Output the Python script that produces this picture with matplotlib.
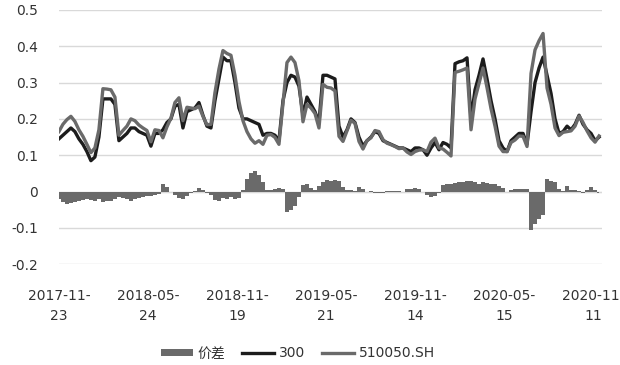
import matplotlib
matplotlib.use('Agg')
import matplotlib.pyplot as plt
import numpy as np

plt.rcParams['font.family'] = ['DejaVu Sans', 'Noto Sans CJK SC']
plt.rcParams['font.size'] = 10

# labels on the category axis (trading-day index 0, 120, 240 ...)
tick_labels = ['2017-11-\n23', '2018-05-\n24', '2018-11-\n19', '2019-05-\n21',
               '2019-11-\n14', '2020-05-\n15', '2020-11-\n11']
n_days = 732

# values read roughly every ~5 trading days
hs300 = [0.145, 0.155, 0.165, 0.175, 0.165, 0.145, 0.13, 0.11, 0.085, 0.095,
         0.15, 0.255, 0.255, 0.255, 0.24, 0.14, 0.15, 0.16, 0.175, 0.175,
         0.165, 0.16, 0.155, 0.125, 0.16, 0.16, 0.17, 0.19, 0.2, 0.235,
         0.24, 0.175, 0.22, 0.225, 0.23, 0.245, 0.21, 0.18, 0.175, 0.25,
         0.31, 0.37, 0.36, 0.36, 0.3, 0.23, 0.2, 0.2, 0.195, 0.19,
         0.185, 0.155, 0.16, 0.16, 0.155, 0.14, 0.25, 0.3, 0.32, 0.315,
         0.29, 0.21, 0.26, 0.24, 0.22, 0.19, 0.32, 0.32, 0.315, 0.31,
         0.18, 0.15, 0.17, 0.2, 0.19, 0.15, 0.125, 0.14, 0.15, 0.165,
         0.16, 0.14, 0.135, 0.13, 0.125, 0.12, 0.12, 0.115, 0.11, 0.12,
         0.12, 0.115, 0.1, 0.12, 0.135, 0.115, 0.135, 0.13, 0.12, 0.352,
         0.357, 0.36, 0.368, 0.2, 0.28, 0.32, 0.365, 0.31, 0.25, 0.2,
         0.14, 0.12, 0.11, 0.14, 0.15, 0.16, 0.16, 0.13, 0.22, 0.3,
         0.34, 0.37, 0.32, 0.27, 0.2, 0.16, 0.165, 0.18, 0.17, 0.185,
         0.21, 0.185, 0.17, 0.16, 0.14, 0.15]

etf50 = [0.165, 0.185, 0.198, 0.207, 0.193, 0.17, 0.152, 0.13, 0.107, 0.12,
         0.17, 0.283, 0.282, 0.28, 0.26, 0.155, 0.168, 0.18, 0.2, 0.195,
         0.183, 0.175, 0.168, 0.137, 0.17, 0.168, 0.148, 0.178, 0.202, 0.245,
         0.258, 0.195, 0.232, 0.23, 0.228, 0.235, 0.207, 0.184, 0.185, 0.272,
         0.337, 0.388, 0.38, 0.375, 0.32, 0.248, 0.195, 0.165, 0.145, 0.133,
         0.14, 0.13, 0.155, 0.157, 0.149, 0.13, 0.242, 0.355, 0.37, 0.355,
         0.305, 0.192, 0.24, 0.23, 0.215, 0.175, 0.295, 0.287, 0.285, 0.277,
         0.152, 0.138, 0.167, 0.196, 0.188, 0.138, 0.117, 0.14, 0.148, 0.168,
         0.165, 0.143, 0.133, 0.129, 0.124, 0.118, 0.12, 0.109, 0.102, 0.11,
         0.114, 0.115, 0.11, 0.136, 0.147, 0.12, 0.117, 0.108, 0.098, 0.328,
         0.331, 0.335, 0.34, 0.17, 0.255, 0.298, 0.34, 0.286, 0.228, 0.18,
         0.125, 0.11, 0.11, 0.135, 0.142, 0.153, 0.152, 0.124, 0.325, 0.39,
         0.415, 0.435, 0.285, 0.24, 0.175, 0.154, 0.163, 0.165, 0.167, 0.18,
         0.208, 0.19, 0.167, 0.148, 0.136, 0.153]

spread = [-0.02, -0.03, -0.033, -0.032, -0.028, -0.025, -0.022, -0.02, -0.022, -0.025,
          -0.02, -0.028, -0.027, -0.025, -0.02, -0.015, -0.018, -0.02, -0.025, -0.02,
          -0.018, -0.015, -0.013, -0.012, -0.01, -0.008, 0.022, 0.012, -0.002, -0.01,
          -0.018, -0.02, -0.012, -0.005, 0.002, 0.01, 0.003, -0.004, -0.01, -0.022,
          -0.027, -0.018, -0.02, -0.015, -0.02, -0.018, 0.005, 0.035, 0.05, 0.057,
          0.045, 0.025, 0.005, 0.003, 0.006, 0.01, 0.008, -0.055, -0.05, -0.04,
          -0.015, 0.018, 0.02, 0.01, 0.005, 0.015, 0.025, 0.033, 0.03, 0.033,
          0.028, 0.012, 0.003, 0.004, 0.002, 0.012, 0.008, 0.0, 0.002, -0.003,
          -0.005, -0.003, 0.002, 0.001, 0.001, 0.002, 0.0, 0.006, 0.008, 0.01,
          0.006, 0.0, -0.01, -0.016, -0.012, -0.005, 0.018, 0.022, 0.022, 0.024,
          0.026, 0.025, 0.028, 0.03, 0.025, 0.022, 0.025, 0.024, 0.022, 0.02,
          0.015, 0.01, 0.0, 0.005, 0.008, 0.007, 0.008, 0.006, -0.105, -0.09,
          -0.075, -0.065, 0.035, 0.03, 0.025, 0.006, 0.002, 0.015, 0.003, 0.005,
          0.002, -0.005, 0.003, 0.012, 0.004, -0.003]

text_color = '#333333'
grid_color = '#d9d9d9'
black_line = '#1c1c1c'
gray_line = '#6a6a6a'

x = np.linspace(0, n_days - 4, len(hs300))

fig = plt.figure(figsize=(6.2, 3.65), dpi=100)
ax = fig.add_axes([0.095, 0.276, 0.876, 0.697])

# spread drawn as gap-free columns
h_sp = ax.fill_between(x, 0, spread, step='mid', color=gray_line, linewidth=0,
                       label='价差', zorder=2)
h_300, = ax.plot(x, hs300, color=black_line, lw=2.4, label='300', zorder=3)
h_50, = ax.plot(x, etf50, color=gray_line, lw=2.4, label='510050.SH', zorder=4)

ax.set_ylim(-0.2, 0.5)
ax.set_xlim(0, n_days)
ax.set_yticks([-0.2, -0.1, 0, 0.1, 0.2, 0.3, 0.4, 0.5])
ax.set_yticklabels(['-0.2', '-0.1', '0', '0.1', '0.2', '0.3', '0.4', '0.5'])
ax.set_xticks(np.arange(0, 721, 120))
ax.set_xticklabels(tick_labels, linespacing=1.5)

ax.grid(axis='y', color=grid_color, lw=1, zorder=0)
ax.axhline(0, color='#bfbfbf', lw=0.8, zorder=1)
for s in ax.spines.values():
    s.set_visible(False)
ax.tick_params(axis='both', length=0, colors=text_color, labelsize=10)
ax.tick_params(axis='y', pad=15)
ax.tick_params(axis='x', pad=18)

ax.legend(handles=[h_sp, h_300, h_50], loc='lower center', bbox_to_anchor=(0.44, -0.40),
          ncol=3, frameon=False, handlelength=2.3, handleheight=0.5,
          handletextpad=0.35, columnspacing=1.2, fontsize=10,
          labelcolor=text_color, borderaxespad=0)

fig.savefig('out.png', dpi=100)
